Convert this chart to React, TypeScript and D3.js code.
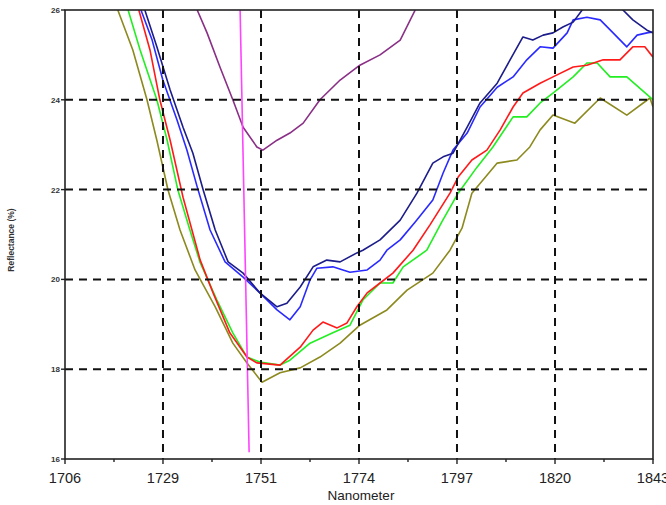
import React, { useRef, useEffect } from "react"
import * as d3 from "d3"

// wavelength axis (nm) and reflectance axis (%)
const xDomain: [number, number] = [1706, 1843]
const yDomain: [number, number] = [16, 26]
const xTicks = [1706, 1728.83, 1751.67, 1774.5, 1797.33, 1820.17, 1843]
const xTickLabels = ["1706", "1729", "1751", "1774", "1797", "1820", "1843"]
const yTicks = [16, 18, 20, 22, 24, 26]
const yTickLabels = ["16", "18", "20", "22", "24", "26"]

type Pt = [number, number]

const olive: Pt[] = [
  [1718.3, 26.0], [1721.8, 25.11], [1725.1, 24.0], [1727.4, 23.1], [1730.0, 21.99],
  [1732.8, 21.1], [1736.3, 20.21], [1741.0, 19.39], [1745.1, 18.58], [1748.4, 18.14],
  [1751.9, 17.71], [1756.1, 17.92], [1760.8, 18.03], [1765.4, 18.27], [1770.1, 18.58],
  [1774.7, 18.98], [1781.0, 19.32], [1785.7, 19.76], [1791.7, 20.14], [1795.7, 20.65],
  [1798.5, 21.14], [1800.8, 21.92], [1806.7, 22.59], [1811.3, 22.66], [1814.3, 22.95],
  [1816.7, 23.33], [1819.7, 23.66], [1824.8, 23.48], [1830.7, 24.04], [1836.9, 23.66],
  [1842.3, 24.04], [1843, 23.84],
]

const green: Pt[] = [
  [1720.7, 26.0], [1723.5, 25.11], [1727.4, 24.0], [1729.8, 23.1], [1732.3, 21.99],
  [1735.1, 21.1], [1737.5, 20.37], [1741.4, 19.54], [1745.1, 18.81], [1748.4, 18.27],
  [1751.4, 18.16], [1756.1, 18.09], [1758.4, 18.2], [1763.1, 18.58], [1768.4, 18.81],
  [1772.4, 18.98], [1775.4, 19.54], [1779.4, 19.92], [1782.4, 19.92], [1784.8, 20.28],
  [1790.3, 20.65], [1793.8, 21.28], [1797.6, 21.92], [1802.0, 22.5], [1805.7, 22.95],
  [1810.4, 23.62], [1813.6, 23.62], [1816.7, 23.93], [1819.7, 24.15], [1824.4, 24.51],
  [1827.6, 24.82], [1830.0, 24.82], [1833.0, 24.51], [1836.9, 24.51], [1842.3, 24.06],
  [1843, 24.0],
]

const red: Pt[] = [
  [1723.2, 26.0], [1725.8, 25.11], [1728.1, 24.0], [1730.5, 23.1], [1733.5, 21.83],
  [1737.5, 20.43], [1740.5, 19.7], [1744.4, 18.81], [1748.4, 18.27], [1750.7, 18.14],
  [1756.1, 18.09], [1760.8, 18.49], [1763.8, 18.87], [1766.1, 19.05], [1769.4, 18.92],
  [1771.7, 19.03], [1774.0, 19.39], [1776.4, 19.7], [1779.4, 19.92], [1782.4, 20.14],
  [1787.1, 20.65], [1791.0, 21.21], [1795.7, 21.92], [1797.6, 22.28], [1800.8, 22.66],
  [1804.3, 22.88], [1807.4, 23.33], [1810.4, 23.84], [1812.7, 24.15], [1816.7, 24.37],
  [1819.7, 24.51], [1824.4, 24.73], [1827.6, 24.77], [1831.4, 24.89], [1835.3, 24.89],
  [1838.3, 25.18], [1841.1, 25.18], [1843, 24.95],
]

const blue: Pt[] = [
  [1723.7, 26.0], [1726.3, 25.33], [1728.8, 24.44], [1732.1, 23.55], [1734.4, 22.88],
  [1736.8, 22.06], [1739.8, 21.1], [1743.3, 20.39], [1747.5, 20.05], [1751.4, 19.7],
  [1755.4, 19.32], [1758.4, 19.1], [1760.8, 19.39], [1763.1, 19.99], [1764.7, 20.25],
  [1768.4, 20.28], [1772.4, 20.16], [1776.4, 20.21], [1779.4, 20.43], [1781.0, 20.65],
  [1784.1, 20.88], [1787.6, 21.28], [1791.7, 21.77], [1794.1, 22.37], [1796.4, 22.88],
  [1799.7, 23.26], [1802.7, 23.84], [1806.7, 24.28], [1810.4, 24.51], [1813.6, 24.89],
  [1816.7, 25.18], [1819.7, 25.15], [1823.0, 25.49], [1824.4, 25.78], [1827.6, 25.84],
  [1830.7, 25.78], [1833.7, 25.49], [1836.9, 25.18], [1839.3, 25.44], [1841.6, 25.49],
  [1843, 25.51],
]

const navy: Pt[] = [
  [1724.6, 26.0], [1727.4, 25.18], [1730.5, 24.22], [1733.5, 23.39], [1735.8, 22.81],
  [1738.2, 21.99], [1741.0, 21.1], [1744.0, 20.39], [1747.5, 20.14], [1751.4, 19.7],
  [1755.4, 19.39], [1757.7, 19.47], [1760.8, 19.83], [1763.8, 20.28], [1767.0, 20.43],
  [1770.1, 20.39], [1774.0, 20.59], [1775.4, 20.65], [1779.4, 20.88], [1784.1, 21.32],
  [1788.0, 21.92], [1791.7, 22.59], [1794.1, 22.73], [1796.4, 22.81], [1799.7, 23.39],
  [1802.7, 23.93], [1806.7, 24.37], [1809.7, 24.89], [1812.7, 25.4], [1815.0, 25.33],
  [1817.4, 25.44], [1819.7, 25.49], [1822.0, 25.62], [1824.4, 25.73], [1826.5, 26.0],
  [1831.0, 26.4], [1836.0, 26.0], [1838.3, 25.78], [1841.6, 25.55], [1843, 25.49],
]

const purple: Pt[] = [
  [1736.8, 26.0], [1739.1, 25.49], [1742.1, 24.73], [1745.1, 24.0], [1747.5, 23.39],
  [1750.7, 22.95], [1752.1, 22.88], [1755.4, 23.1], [1758.4, 23.26], [1761.5, 23.48],
  [1765.4, 24.0], [1770.1, 24.44], [1774.7, 24.77], [1779.4, 25.0], [1784.1, 25.33],
  [1787.6, 26.0],
]

const marker: Pt[] = [[1746.8, 26.0], [1748.9, 16.15]]

const series = [
  { data: olive, color: "#8c8a1e" },
  { data: green, color: "#22ee22" },
  { data: red, color: "#ff1a1a" },
  { data: blue, color: "#2a2aff" },
  { data: navy, color: "#1c1c8a" },
  { data: purple, color: "#8a2f86" },
  { data: marker, color: "#ff44ff" },
]

const W = 666
const H = 505
const plot = { left: 65, right: 653, top: 10, bottom: 459 }

function drawChart(svgEl: SVGSVGElement) {
  const svg = d3.select(svgEl)
  svg.selectAll("*").remove()

  const x = d3.scaleLinear().domain(xDomain).range([plot.left, plot.right])
  const y = d3.scaleLinear().domain(yDomain).range([plot.bottom, plot.top])

  svg.append("rect").attr("width", W).attr("height", H).attr("fill", "#fff")

  svg
    .append("clipPath")
    .attr("id", "plotclip")
    .append("rect")
    .attr("x", plot.left)
    .attr("y", plot.top)
    .attr("width", plot.right - plot.left)
    .attr("height", plot.bottom - plot.top)

  const line = d3
    .line<Pt>()
    .x(d => x(d[0]))
    .y(d => y(d[1]))

  const curves = svg.append("g").attr("clip-path", "url(#plotclip)")
  series.forEach(s => {
    curves
      .append("path")
      .attr("d", line(s.data))
      .attr("fill", "none")
      .attr("stroke", s.color)
      .attr("stroke-width", 1.6)
      .attr("stroke-linejoin", "round")
  })

  // dashed grid
  const grid = svg.append("g").attr("stroke", "#111").attr("stroke-width", 2).attr("stroke-dasharray", "8,6")
  xTicks.slice(1, -1).forEach(t => {
    grid.append("line").attr("x1", x(t)).attr("x2", x(t)).attr("y1", plot.top).attr("y2", plot.bottom)
  })
  yTicks.slice(1, -1).forEach(t => {
    grid.append("line").attr("x1", plot.left).attr("x2", plot.right).attr("y1", y(t)).attr("y2", y(t))
  })

  // frame
  svg
    .append("rect")
    .attr("x", plot.left)
    .attr("y", plot.top)
    .attr("width", plot.right - plot.left)
    .attr("height", plot.bottom - plot.top)
    .attr("fill", "none")
    .attr("stroke", "#222")
    .attr("stroke-width", 1.6)

  // x ticks
  const axisG = svg.append("g").attr("stroke", "#222").attr("stroke-width", 1.4)
  xTicks.forEach((t, i) => {
    axisG.append("line").attr("x1", x(t)).attr("x2", x(t)).attr("y1", plot.bottom).attr("y2", plot.bottom + 5)
    if (i < xTicks.length - 1) {
      const m = (t + xTicks[i + 1]) / 2
      axisG.append("line").attr("x1", x(m)).attr("x2", x(m)).attr("y1", plot.bottom).attr("y2", plot.bottom + 3)
    }
  })
  yTicks.forEach(t => {
    axisG.append("line").attr("x1", plot.left - 4).attr("x2", plot.left).attr("y1", y(t)).attr("y2", y(t))
  })

  svg
    .append("g")
    .selectAll("text")
    .data(xTicks)
    .enter()
    .append("text")
    .attr("x", d => x(d))
    .attr("y", 483)
    .attr("text-anchor", "middle")
    .attr("font-family", "Liberation Sans, Arial, sans-serif")
    .attr("font-size", 14.5)
    .attr("fill", "#222")
    .text((d, i) => xTickLabels[i])

  svg
    .append("g")
    .selectAll("text")
    .data(yTicks)
    .enter()
    .append("text")
    .attr("x", plot.left - 5)
    .attr("y", d => y(d) + 3)
    .attr("text-anchor", "end")
    .attr("font-family", "Liberation Sans, Arial, sans-serif")
    .attr("font-size", 8)
    .attr("font-weight", "bold")
    .attr("fill", "#333")
    .text((d, i) => yTickLabels[i])

  svg
    .append("text")
    .attr("x", 361)
    .attr("y", 500)
    .attr("text-anchor", "middle")
    .attr("font-family", "Liberation Sans, Arial, sans-serif")
    .attr("font-size", 13.5)
    .attr("fill", "#222")
    .text("Nanometer")

  svg
    .append("text")
    .attr("transform", "translate(14,240) rotate(-90)")
    .attr("text-anchor", "middle")
    .attr("font-family", "Liberation Sans, Arial, sans-serif")
    .attr("font-size", 8.5)
    .attr("font-weight", "bold")
    .attr("fill", "#333")
    .text("Reflectance (%)")
}

export default function App() {
  const svgRef = useRef<SVGSVGElement>(null)

  useEffect(() => {
    if (svgRef.current) drawChart(svgRef.current)
  }, [])

  return (
    <svg
      ref={svgRef}
      width={W}
      height={H}
      style={{ position: "absolute", left: 0, top: 0, display: "block" }}
    />
  )
}
